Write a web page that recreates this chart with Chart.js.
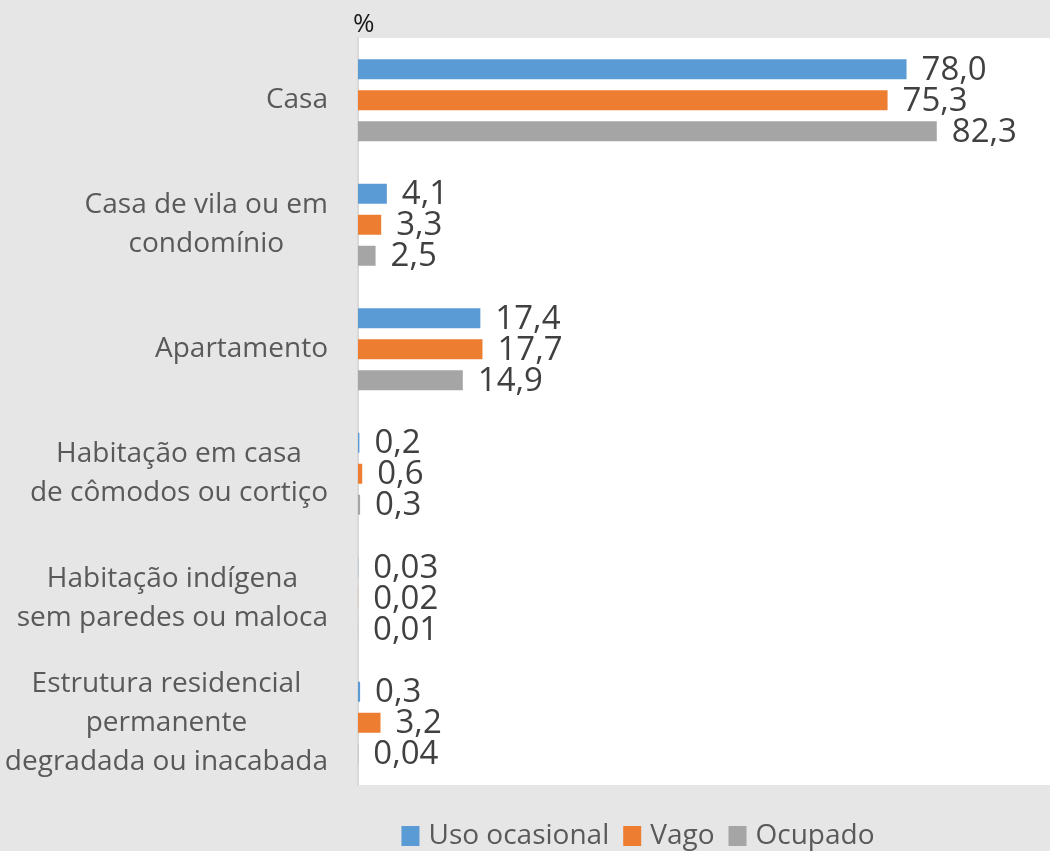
<!DOCTYPE html>
<html lang="pt-BR">
<head>
<meta charset="UTF-8">
<title>Domicílios por tipo</title>
<script src="https://cdn.jsdelivr.net/npm/chart.js"></script>
<style>
  html, body { margin: 0; padding: 0; background: #e6e6e6; overflow: hidden; }
</style>
</head>
<body>
<canvas id="chart" width="1050" height="851"></canvas>
<script>
// categories (each line of the axis label as its own entry)
const categories = [
  ['Casa'],
  ['Casa de vila ou em', 'condomínio'],
  ['Apartamento'],
  ['Habitação em casa', 'de cômodos ou cortiço'],
  ['Habitação indígena', 'sem paredes ou maloca'],
  ['Estrutura residencial', 'permanente', 'degradada ou inacabada']
];
const seriesNames = ['Uso ocasional', 'Vago', 'Ocupado'];
const usoOcasional = [78.0, 4.1, 17.4, 0.2, 0.03, 0.3];
const vago = [75.3, 3.3, 17.7, 0.6, 0.02, 3.2];
const ocupado = [82.3, 2.5, 14.9, 0.3, 0.01, 0.04];
const unitLabel = '%';

const colors = ['#5b9bd5', '#ed7d31', '#a5a5a5'];
const FONT = '"Open Sans", "Noto Sans", sans-serif';

// 0,03 style for tiny values, 78,0 style for the rest
function fmt(v) {
  return (v < 0.1 ? v.toFixed(2) : v.toFixed(1)).replace('.', ',');
}

const backgroundPlugin = {
  id: 'bg',
  beforeDraw(chart) {
    const { ctx, chartArea: a } = chart;
    ctx.save();
    ctx.fillStyle = '#e6e6e6';
    ctx.fillRect(0, 0, chart.width, chart.height);
    ctx.fillStyle = '#ffffff';
    ctx.fillRect(a.left, a.top, a.right - a.left, a.bottom - a.top);
    ctx.restore();
  }
};

const valueLabels = {
  id: 'valueLabels',
  afterDatasetsDraw(chart) {
    const ctx = chart.ctx;
    ctx.save();
    ctx.font = '33px ' + FONT;
    ctx.fillStyle = '#404040';
    ctx.textAlign = 'left';
    ctx.textBaseline = 'middle';
    chart.data.datasets.forEach((ds, i) => {
      chart.getDatasetMeta(i).data.forEach((bar, j) => {
        ctx.fillText(fmt(ds.data[j]), bar.x + 15, bar.y + 1);
      });
    });
    ctx.restore();
  }
};

const extras = {
  id: 'extras',
  afterDraw(chart) {
    const ctx = chart.ctx;
    const yScale = chart.scales.y;
    ctx.save();

    // category labels: each block right aligned, lines centred inside the block
    ctx.font = '28px ' + FONT;
    ctx.fillStyle = '#595959';
    ctx.textAlign = 'center';
    ctx.textBaseline = 'middle';
    const rightEdge = 328, lineH = 39;
    categories.forEach((lines, i) => {
      const yc = yScale.getPixelForValue(i);
      const w = Math.max(...lines.map(l => ctx.measureText(l).width));
      const xc = rightEdge - w / 2;
      lines.forEach((l, k) => {
        ctx.fillText(l, xc, yc + (k - (lines.length - 1) / 2) * lineH);
      });
    });

    // unit label above the plot
    ctx.font = '26px ' + FONT;
    ctx.fillStyle = '#1a1a1a';
    ctx.textAlign = 'left';
    ctx.textBaseline = 'alphabetic';
    ctx.fillText(unitLabel, 353, 32);

    // legend at the bottom
    ctx.font = '28px ' + FONT;
    ctx.textBaseline = 'middle';
    const box = 18, gapText = 9, gapItem = 14;
    const widths = seriesNames.map(n => ctx.measureText(n).width);
    const total = widths.reduce((s, w) => s + box + gapText + w, 0) + gapItem * (seriesNames.length - 1);
    let x = 638 - total / 2;
    const ly = 836;
    seriesNames.forEach((n, i) => {
      ctx.fillStyle = colors[i];
      ctx.fillRect(x, ly - 10, box, 20);
      x += box + gapText;
      ctx.fillStyle = '#595959';
      ctx.fillText(n, x, ly);
      x += widths[i] + gapItem;
    });

    ctx.restore();
  }
};

const seriesData = [usoOcasional, vago, ocupado];

new Chart(document.getElementById('chart').getContext('2d'), {
  type: 'bar',
  data: {
    labels: categories,
    datasets: seriesNames.map((name, i) => ({
      label: name,
      data: seriesData[i],
      backgroundColor: colors[i],
      borderWidth: 0,
      barPercentage: 0.645,
      categoryPercentage: 0.747
    }))
  },
  options: {
    indexAxis: 'y',
    responsive: false,
    animation: false,
    layout: { padding: { top: 38, bottom: 66, left: 0, right: 0 } },
    scales: {
      x: { display: false, min: 0, max: 98.4 },
      y: {
        ticks: { display: false },
        grid: { display: false },
        border: { display: true, color: '#d9d9d9', width: 2 },
        afterFit(scale) { scale.width = 358; }
      }
    },
    plugins: {
      legend: { display: false },
      tooltip: { enabled: false }
    }
  },
  plugins: [backgroundPlugin, valueLabels, extras]
});
</script>
</body>
</html>
